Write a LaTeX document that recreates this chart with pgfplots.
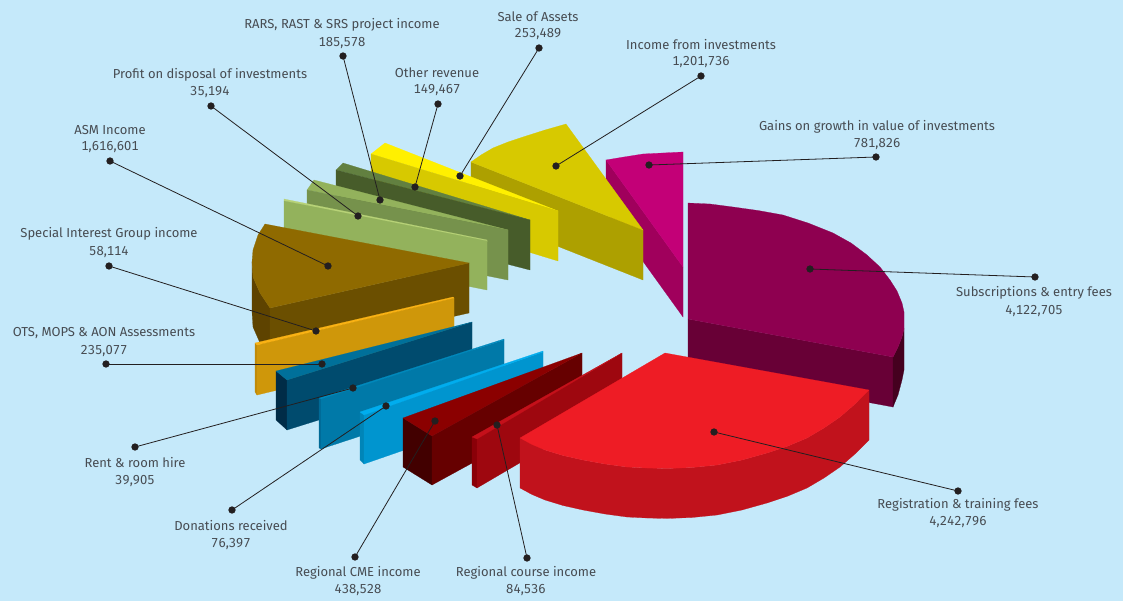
\documentclass[border=0pt]{standalone}
\usepackage{fontspec}
\setmainfont[Numbers={Lining,Tabular}]{Fira Sans}
\usepackage{pgfplots}
\pgfplotsset{compat=1.18}
\definecolor{bg}{HTML}{C5E9FA}
\definecolor{txt}{HTML}{474C52}
\definecolor{ink}{HTML}{231F20}
\newcommand{\dc}[1]{\definecolor{c#1}{HTML}{#1}}
\dc{A0005C}\dc{C30077}\dc{ADA000}\dc{D7C900}\dc{FFF000}\dc{628040}\dc{475C2A}\dc{93B25C}\dc{76924C}\dc{B7D277}
\dc{5E4300}\dc{6B4F00}\dc{8F6A00}\dc{C08A08}\dc{CF970A}\dc{F9B214}\dc{002C47}\dc{004B6E}\dc{00709A}\dc{006A96}
\dc{0079A8}\dc{0089BC}\dc{0085B8}\dc{0095CF}\dc{00ADEE}\dc{420000}\dc{660000}\dc{8B0000}\dc{8A0008}\dc{9E070F}
\dc{C4101A}\dc{680036}\dc{45001F}\dc{8E0050}\dc{C1121C}\dc{EE1C25}
\newcommand{\face}[2]{\addplot[fill=c#1,draw=c#1,line width=0.2pt,forget plot] coordinates {#2} --cycle;}
\newcommand{\leader}[1]{\addplot[color=ink,line width=0.8pt,mark=*,mark size=3.2pt,mark options={fill=ink,draw=ink,solid},forget plot] coordinates {#1};}
\newcommand{\lab}[5]{\node[font=\fontsize{13pt}{14pt}\selectfont,text=txt,inner sep=0pt,anchor=center] at (axis cs:#1,#2) {#4};
\node[font=\fontsize{13pt}{14pt}\selectfont,text=txt,inner sep=0pt,anchor=center] at (axis cs:#1,#3) {#5};}
\begin{document}
\begin{tikzpicture}
\begin{axis}[x=1pt,y=1pt,y dir=reverse,xmin=0,xmax=1123,ymin=0,ymax=601,hide axis,
  scale only axis,clip=true]
\addplot[fill=bg,draw=none,forget plot] coordinates {(0,0)(1123,0)(1123,601)(0,601)} --cycle;
% Gains on growth
\face{A0005C}{(606,160)(683,267)(683,317)(606,210)}
\face{C30077}{(606,160)(624,157)(643,154)(663,153)(683,152)(683,267)}
% Income from investments
\face{ADA000}{(471,162)(643,230)(643,280)(471,212)}
\face{D7C900}{(471,162)(481,155)(493,148)(508,142)(523,137)(545,130)(566,124)(643,230)}
% Sale of assets
\face{FFF000}{(371,154)(385,143)(558,211)}
\face{D7C900}{(371,154)(558,211)(558,261)(371,204)}
% Other revenue
\face{628040}{(336,170)(343,163)(530,220)}
\face{475C2A}{(336,170)(530,220)(530,270)(336,220)}
% RARS
\face{93B25C}{(307,190)(314,180)(508,230)}
\face{76924C}{(307,190)(508,230)(508,280)(307,240)}
% Profit
\face{B7D277}{(284,199)(487,240)(487,242)(284,201)}
\face{93B25C}{(284,201)(487,241)(487,290)(284,250)}
% ASM
\face{5E4300}{(252,262)(253,277)(260,293)(270,308)(270,358)(260,343)(253,327)(252,312)}
\face{6B4F00}{(270,308)(469,263)(469,313)(270,358)}
\face{8F6A00}{(265,224)(258,235)(253,250)(252,262)(253,277)(260,293)(270,308)(469,263)}
% SIG
\face{C08A08}{(255,343)(257,345)(257,395)(255,392)}
\face{CF970A}{(257,345)(454,298)(454,348)(257,395)}
\face{F9B214}{(255,343)(453,297)(454,298)(257,345)}
% OTS
\face{002C47}{(276,371)(287,380)(287,430)(276,420)}
\face{004B6E}{(287,380)(472,322)(472,372)(287,430)}
\face{00709A}{(276,371)(472,322)(287,380)}
% Rent
\face{006A96}{(319,398)(321,399)(321,449)(319,448)}
\face{0079A8}{(321,399)(504,340)(504,389)(321,449)}
\face{0089BC}{(319,398)(504,339)(504,340)(321,399)}
% Donations
\face{0085B8}{(360,412)(364,415)(364,464)(360,460)}
\face{0095CF}{(364,415)(543,352)(543,402)(364,464)}
\face{00ADEE}{(360,412)(543,351)(543,352)(364,415)}
% Regional CME
\face{420000}{(403,418)(432,436)(432,485)(403,467)}
\face{660000}{(432,436)(582,353)(582,403)(432,485)}
\face{8B0000}{(403,418)(582,353)(432,436)}
% Regional course
\face{8A0008}{(472,437)(477,439)(477,488)(472,485)}
\face{9E070F}{(477,439)(622,353)(622,403)(477,488)}
\face{C4101A}{(472,437)(622,353)(477,439)}
% Subscriptions
\face{680036}{(688,319)(893,357)(893,407)(688,369)}
\face{45001F}{(893,357)(898,347)(902,337)(904,329)(904,370)(902,380)(898,395)(893,407)}
\face{8E0050}{(688,203)(710,204)(733,207)(758,210.5)(783,215)(808,223)(833,233)(851,243)(867,255)(880,267)(890,280)(897,291)(902,303)(904,312)(904,320)(904,329)(902,337)(898,347)(893,357)(688,319)}
% Registration
\face{C1121C}{(520,438)(532,444.5)(545,450)(563,455.5)(583,460)(605,464)(627,467)(647,468)(667,468.5)(692,467.5)(717,465)(742,460)(767,453)(788,446)(807,438)(824,428)(840,417)(855,404)(869,390)(869,440)(855,454)(840,467)(824,478)(807,488)(788,496)(767,503)(742,510)(717,515)(692,517.5)(667,518.5)(647,518)(627,517)(605,514)(583,510)(563,505.5)(545,500)(532,494.5)(520,488)}
\face{EE1C25}{(665,353)(869,390)(855,404)(840,417)(824,428)(807,438)(788,446)(767,453)(742,460)(717,465)(692,467.5)(667,468.5)(647,468)(627,467)(605,464)(583,460)(563,455.5)(545,450)(532,444.5)(520,438)}
% Leaders
\leader{(649,165)(876,157)}
\leader{(810,269)(1035,277)}
\leader{(714,432)(958,491)}
\leader{(497,425)(527,558)}
\leader{(435,421)(355,557)}
\leader{(386,406)(232,510)}
\leader{(353,388)(135,447)}
\leader{(322,364)(106,364)}
\leader{(316,331)(109,266)}
\leader{(328,266)(110,161)}
\leader{(358,216)(211,106)}
\leader{(380,200)(343,56)}
\leader{(415,187)(438,104)}
\leader{(460,176)(539,48)}
\leader{(556,166)(701,76)}
% Labels
\lab{538}{17}{34}{Sale of Assets}{253,489}
\lab{342}{25}{43}{RARS, RAST \& SRS project income}{185,578}
\lab{437}{73}{90}{Other revenue}{149,467}
\lab{701}{45}{62}{Income from investments}{1,201,736}
\lab{877}{127}{144}{Gains on growth in value of investments}{781,826}
\lab{210}{75}{92}{Profit on disposal of investments}{35,194}
\lab{110}{130}{147}{ASM Income}{1,616,601}
\lab{109}{234}{252}{Special Interest Group income}{58,114}
\lab{104}{333}{351}{OTS, MOPS \& AON Assessments}{235,077}
\lab{1034}{293}{311}{Subscriptions \& entry fees}{4,122,705}
\lab{958}{505}{522}{Registration \& training fees}{4,242,796}
\lab{135}{463}{481}{Rent \& room hire}{39,905}
\lab{231}{526}{544}{Donations received}{76,397}
\lab{358}{573}{590}{Regional CME income}{438,528}
\lab{526}{573}{590}{Regional course income}{84,536}
\end{axis}
\end{tikzpicture}
\end{document}
